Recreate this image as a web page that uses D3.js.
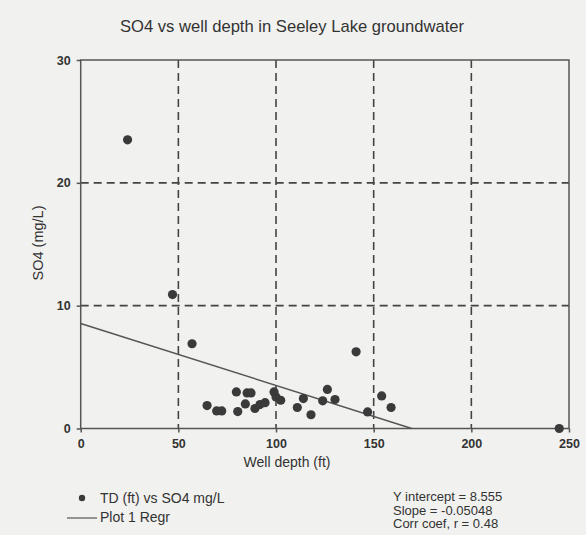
<!DOCTYPE html>
<html><head><meta charset="utf-8">
<script src="https://cdn.jsdelivr.net/npm/d3@7"></script>
<style>
html,body{margin:0;padding:0;background:#f1f1ef;}
svg{display:block;font-family:"Liberation Sans",Arial,sans-serif;}
</style></head>
<body>
<svg id="chart" width="586" height="535"></svg>
<script>
const depth = [24, 47, 57, 64.7, 69.6, 72.2, 79.7, 85.2, 87.2, 80.4, 84.3, 89.2, 91.8, 94.4, 99, 100, 102.4, 110.9, 114, 117.9, 123.9, 126.3, 130.2, 141, 146.9, 154.1, 158.9, 245];
const so4   = [23.5, 10.9, 6.9, 1.87, 1.43, 1.43, 2.98, 2.9, 2.9, 1.38, 2.0, 1.63, 1.95, 2.1, 2.98, 2.57, 2.3, 1.71, 2.44, 1.12, 2.25, 3.18, 2.36, 6.24, 1.35, 2.65, 1.71, 0];
const xTicks = [0, 50, 100, 150, 200, 250];
const yTicks = [0, 10, 20, 30];
const regIntercept = 8.555, regSlope = -0.05048, corr = 0.48;
const titleText = "SO4 vs well depth in Seeley Lake groundwater";
const xLabel = "Well depth (ft)", yLabel = "SO4 (mg/L)";
const legendLabels = ["TD (ft) vs SO4 mg/L", "Plot 1 Regr"];
const statLines = ["Y intercept = 8.555", "Slope = -0.05048", "Corr coef, r = 0.48"];

const svg = d3.select("#chart");
const x = d3.scaleLinear().domain([0, 250]).range([80.7, 569]);
const y = d3.scaleLinear().domain([0, 30]).range([428.5, 60]);
const ink = "#3a3a3a";

svg.append("text").attr("x", 292).attr("y", 32).attr("text-anchor", "middle")
  .attr("font-size", 16.6).attr("fill", "#333").text(titleText);

// grid
const g = svg.append("g");
g.selectAll(".gx").data(xTicks.filter(d => d > 0 && d < 250)).join("line")
  .attr("x1", d => x(d)).attr("x2", d => x(d)).attr("y1", y(30)).attr("y2", y(0))
  .attr("stroke", "#444").attr("stroke-width", 1.6).attr("stroke-dasharray", "8,5");
g.selectAll(".gy").data(yTicks.filter(d => d > 0 && d < 30)).join("line")
  .attr("x1", x(0)).attr("x2", x(250)).attr("y1", d => y(d)).attr("y2", d => y(d))
  .attr("stroke", "#444").attr("stroke-width", 1.6).attr("stroke-dasharray", "8,5");

// frame
svg.append("rect").attr("x", x(0)).attr("y", y(30)).attr("width", x(250) - x(0)).attr("height", y(0) - y(30))
  .attr("fill", "none").attr("stroke", "#555").attr("stroke-width", 1.5);

// axes
const xAxis = svg.append("g").attr("transform", `translate(0,${y(0)})`)
  .call(d3.axisBottom(x).tickValues(xTicks).tickSize(4).tickPadding(7));
const yAxis = svg.append("g").attr("transform", `translate(${x(0)},0)`)
  .call(d3.axisLeft(y).tickValues(yTicks).tickSize(4).tickPadding(6));
[xAxis, yAxis].forEach(a => {
  a.select(".domain").remove();
  a.selectAll("line").attr("stroke", "#555").attr("stroke-width", 1.5);
  a.selectAll("text").attr("font-size", 12.5).attr("font-weight", "bold").attr("fill", "#333")
    .attr("font-family", "Liberation Sans, Arial, sans-serif");
});

// regression line
const xEnd = -regIntercept / regSlope;
svg.append("line").attr("x1", x(0)).attr("y1", y(regIntercept)).attr("x2", x(xEnd)).attr("y2", y(0))
  .attr("stroke", "#555").attr("stroke-width", 1.5);

// points
svg.selectAll(".pt").data(depth.map((d, i) => [d, so4[i]])).join("circle")
  .attr("cx", d => x(d[0])).attr("cy", d => y(d[1])).attr("r", 4.6).attr("fill", ink);

// axis titles
svg.append("text").attr("x", 287).attr("y", 467).attr("text-anchor", "middle")
  .attr("font-size", 14).attr("fill", "#333").text(xLabel);
svg.append("text").attr("transform", "translate(43,243) rotate(-90)").attr("text-anchor", "middle")
  .attr("font-size", 14.5).attr("fill", "#333").text(yLabel);

// legend
svg.append("circle").attr("cx", 82).attr("cy", 498).attr("r", 3.2).attr("fill", ink);
svg.append("text").attr("x", 100).attr("y", 503).attr("font-size", 14).attr("fill", "#333").text(legendLabels[0]);
svg.append("line").attr("x1", 67).attr("x2", 97).attr("y1", 518).attr("y2", 518).attr("stroke", "#555").attr("stroke-width", 1.2);
svg.append("text").attr("x", 100).attr("y", 522).attr("font-size", 14).attr("fill", "#333").text(legendLabels[1]);

svg.selectAll(".stat").data(statLines).join("text")
  .attr("x", 393).attr("y", (d, i) => 501 + i * 13.5).attr("font-size", 13).attr("fill", "#333").text(d => d);
</script>
</body></html>
